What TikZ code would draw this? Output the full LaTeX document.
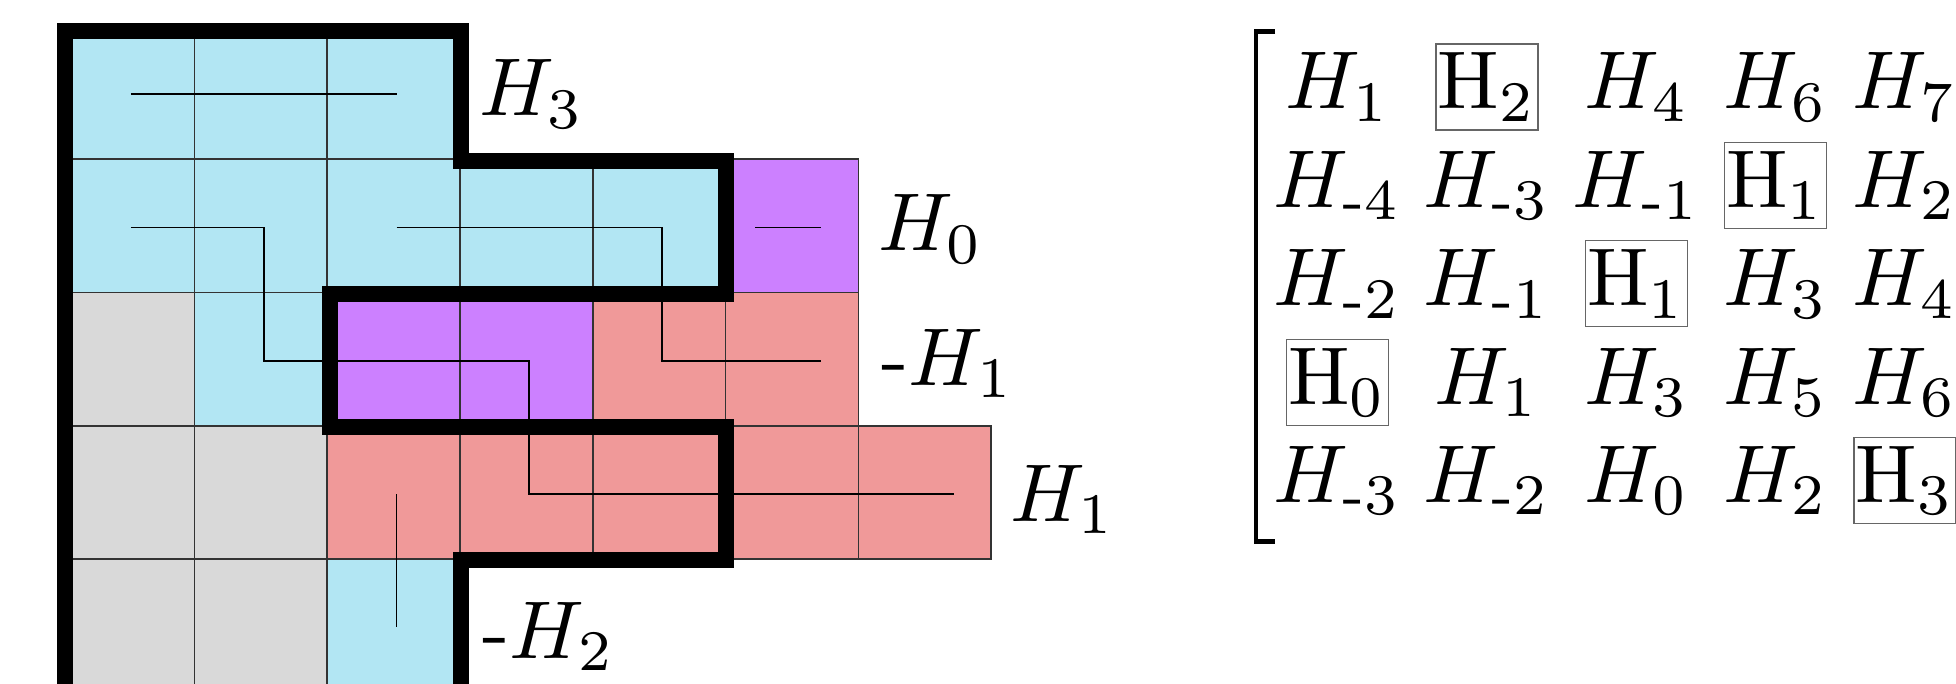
\documentclass[tikz,border=0pt]{standalone}
\usepackage{amsmath}
\definecolor{cellblue}{RGB}{178,230,243}
\definecolor{cellpurple}{RGB}{204,128,255}
\definecolor{cellred}{RGB}{240,153,153}
\definecolor{cellgray}{RGB}{217,217,217}
\tikzset{
  bigfont/.style={font=\fontsize{10}{12}\selectfont, scale=4.1, transform shape},
  lbl/.style={bigfont, anchor=base west, inner sep=0pt},
  ent/.style={bigfont, anchor=base, inner sep=0pt},
  boxent/.style={ent, draw=black!60, line width=0.65pt, minimum width=12.44pt,
                 text height=7.93pt, text depth=2.56pt},
  gridline/.style={draw=black!80, line width=0.8pt},
  route/.style={draw=black, line width=0.9pt, line join=miter},
  wall/.style={draw=black, line width=8pt, line join=miter},
  bracket/.style={draw=black, line width=2.2pt, line join=miter},
}
\begin{document}
\begin{tikzpicture}[x=0.5pt,y=-0.5pt]
\useasboundingbox (0,0) rectangle (1956,684);
\clip (0,0) rectangle (1956,684);

% ---- board: one unit per cell, rows counted downwards ----
\begin{scope}[xshift=30.75pt,yshift=-13pt,x=66.4pt,y=-66.65pt]
  \foreach \i/\j in {0/0,1/0,2/0,0/1,1/1,2/1,3/1,4/1,1/2,2/4}
    \fill[cellblue] (\i,\j) rectangle ++(1,1);
  \foreach \i/\j in {5/1,2/2,3/2}
    \fill[cellpurple] (\i,\j) rectangle ++(1,1);
  \foreach \i/\j in {4/2,5/2,2/3,3/3,4/3,5/3,6/3}
    \fill[cellred] (\i,\j) rectangle ++(1,1);
  \foreach \i/\j in {0/2,0/3,1/3,0/4,1/4}
    \fill[cellgray] (\i,\j) rectangle ++(1,1);
  \foreach \i/\j in {0/0,1/0,2/0,0/1,1/1,2/1,3/1,4/1,1/2,2/4,
                     5/1,2/2,3/2,4/2,5/2,2/3,3/3,4/3,5/3,6/3,
                     0/2,0/3,1/3,0/4,1/4}
    \path[gridline] (\i,\j) rectangle ++(1,1);

  % routes through the cell centres
  \begin{scope}[xshift=1.5pt,yshift=-0.75pt]
    \path[route] (0.5,0.5) -- (2.5,0.5);
    \path[route] (0.5,1.5) -- (1.5,1.5) -- (1.5,2.5) -- (3.5,2.5)
                 -- (3.5,3.5) -- (6.7,3.5);
    \path[route] (2.5,1.5) -- (4.5,1.5) -- (4.5,2.5) -- (5.7,2.5);
    \path[route] (5.2,1.5) -- (5.7,1.5);
    \path[route] (2.5,3.5) -- (2.5,4.5);
  \end{scope}

  % heavy boundary
  \path[wall] (0.026,5.5) -- (0.026,0.0375) -- (3.008,0.0375) -- (3.008,1.015)
     -- (5.0,1.015) -- (5.0,2.01) -- (2.022,2.01) -- (2.022,3.008)
     -- (5.0,3.008) -- (5.0,4.006) -- (3.008,4.006) -- (3.008,5.5);
\end{scope}

% ---- side labels ----
\node[lbl] (l3) at (478,116) {$H_3$};
\node[lbl] (l0) at (877,251) {$H_0$};
\node[lbl] (lm1) at (880,385.6) {-$H_1$};
\node[lbl] (l1) at (1009,521.7) {$H_1$};
\node[lbl] (lm2) at (481,658) {-$H_2$};

% ---- matrix ----
\path[bracket] (1275,31.5) -- (1256,31.5) -- (1256,541.5) -- (1275,541.5);

% row 1
\node[ent]    (m11) at (1337.5,109) {$H_1$};
\node[boxent] (m12) at (1487,109)   {$\mathrm{H}_2$};
\node[ent]    (m13) at (1636.5,109) {$H_4$};
\node[ent]    (m14) at (1775.5,109) {$H_6$};
\node[ent]    (m15) at (1905,109)   {$H_7$};
% row 2
\node[ent]    (m21) at (1337.5,207.4) {$H_{\text{-}4}$};
\node[ent]    (m22) at (1487,207.4)   {$H_{\text{-}3}$};
\node[ent]    (m23) at (1636.5,207.4) {$H_{\text{-}1}$};
\node[boxent] (m24) at (1775.5,207.4) {$\mathrm{H}_1$};
\node[ent]    (m25) at (1905,207.4)   {$H_2$};
% row 3
\node[ent]    (m31) at (1337.5,305.8) {$H_{\text{-}2}$};
\node[ent]    (m32) at (1487,305.8)   {$H_{\text{-}1}$};
\node[boxent] (m33) at (1636.5,305.8) {$\mathrm{H}_1$};
\node[ent]    (m34) at (1775.5,305.8) {$H_3$};
\node[ent]    (m35) at (1905,305.8)   {$H_4$};
% row 4
\node[boxent] (m41) at (1337.5,404.2) {$\mathrm{H}_0$};
\node[ent]    (m42) at (1487,404.2)   {$H_1$};
\node[ent]    (m43) at (1636.5,404.2) {$H_3$};
\node[ent]    (m44) at (1775.5,404.2) {$H_5$};
\node[ent]    (m45) at (1905,404.2)   {$H_6$};
% row 5
\node[ent]    (m51) at (1337.5,502.6) {$H_{\text{-}3}$};
\node[ent]    (m52) at (1487,502.6)   {$H_{\text{-}2}$};
\node[ent]    (m53) at (1636.5,502.6) {$H_0$};
\node[ent]    (m54) at (1775.5,502.6) {$H_2$};
\node[boxent] (m55) at (1905,502.6)   {$\mathrm{H}_3$};
\end{tikzpicture}
\end{document}
